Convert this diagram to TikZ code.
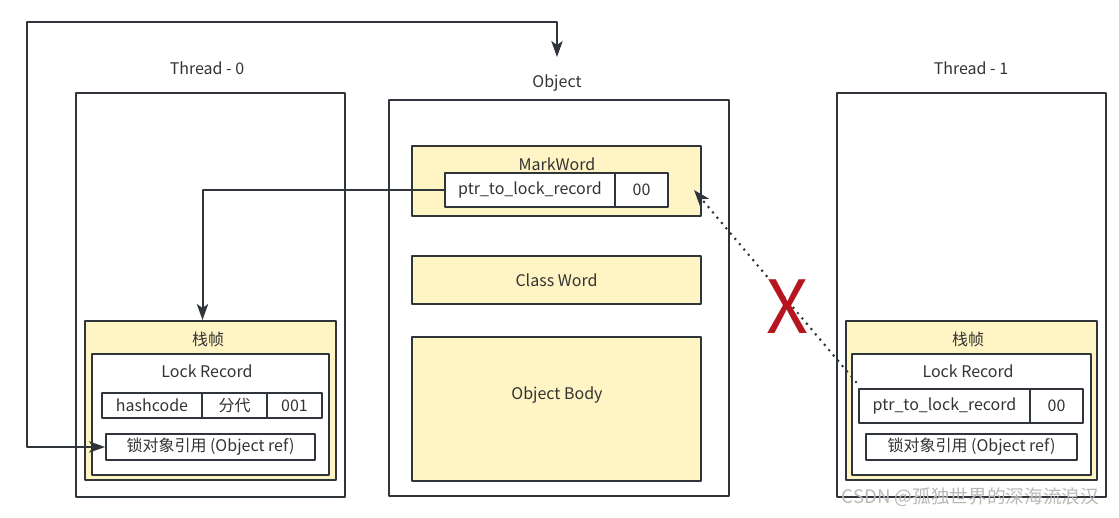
\documentclass[tikz,border=0pt]{standalone}
\usepackage{fontspec}
\setmainfont{Noto Sans CJK SC}
\usetikzlibrary{arrows.meta}
\definecolor{edge}{HTML}{2F353B}
\definecolor{note}{HTML}{FFF4C3}
\definecolor{cross}{HTML}{B5151F}
\begin{document}
\begin{tikzpicture}[x=0.75pt,y=-0.75pt,line join=round,>={Stealth[length=12pt,width=8.5pt,inset=3pt]},
	font=\fontsize{12}{14}\selectfont,text=black!80,
	sz/.style 2 args={minimum width=#1*0.75pt,minimum height=#2*0.75pt},
	frame/.style={draw=edge,line width=1.5pt,fill=white,inner sep=0pt},
	part/.style={draw=edge,line width=1.5pt,fill=note,inner sep=0pt},
	cell/.style={draw=edge,line width=1.5pt,fill=white,inner sep=0pt}]
	\useasboundingbox (0,0) rectangle (1119,517);
	%Các khung lớn
	\node[frame,sz={269}{404}] (t0) at (210.5,295) {};
	\node[frame,sz={340}{396}] (obj) at (559,298) {};
	\node[frame,sz={269}{404}] (t1) at (971.5,295) {};
	\node (t0lbl) at (207,68) {Thread - 0};
	\node (objlbl) at (557,83) {Object};
	\node (t1lbl) at (971,68) {Thread - 1};
	%Object
	\node[part,sz={289}{70}] (mw) at (556.5,181) {};
	\node (mwlbl) at (557,164) {MarkWord};
	\node[cell,sz={170}{34}] (ptr) at (530,190) {ptr\_to\_lock\_record};
	\node[cell,sz={53}{34}] (mwbits) at (641.5,190) {00};
	\node[part,sz={289}{48}] (cw) at (556.5,280) {Class Word};
	\node[part,sz={289}{144}] (body) at (556.5,409) {};
	\node (bodylbl) at (557,395) {Object Body};
	%Thread - 0
	\node[part,sz={251}{159}] (sf0) at (210.5,400.5) {};
	\node (sf0lbl) at (208,339) {栈帧};
	\node[cell,sz={237}{121}] (lr0) at (210.5,414.5) {};
	\node (lr0lbl) at (207,371) {Lock Record};
	\node[cell,sz={100}{25}] (hash) at (152,405.5) {hashcode};
	\node[cell,sz={65}{25}] (gen) at (234.5,405.5) {分代};
	\node[cell,sz={55}{25}] (bits0) at (294.5,405.5) {001};
	\node[cell,sz={209}{26}] (ref0) at (210.5,447) {锁对象引用 (Object ref)};
	%Thread - 1
	\node[part,sz={251}{159}] (sf1) at (971.5,400.5) {};
	\node (sf1lbl) at (968,339) {栈帧};
	\node[cell,sz={239}{121}] (lr1) at (971.5,414.5) {};
	\node (lr1lbl) at (968,371) {Lock Record};
	\node[cell,sz={171}{34}] (ptr1) at (944.5,406) {ptr\_to\_lock\_record};
	\node[cell,sz={53}{34}] (bits1) at (1056.5,406) {00};
	\node[cell,sz={211}{26}] (ref1) at (971.5,447) {锁对象引用 (Object ref)};
	%Các mũi tên
	\coordinate (objtop) at (557,57);
	\draw[<->,draw=edge,line width=1.5pt] (ref0.west) -- (27,447) -- (27,22) -- (557,22) -- (objtop);
	\draw[->,draw=edge,line width=1.5pt] (ptr.west) -| ([xshift=-6pt]sf0.north);
	\draw[->,draw=edge,line width=2.2pt,line cap=round,dash pattern=on 0pt off 5.2pt] ([xshift=-1.5pt,yshift=4.5pt]ptr1.north west) -- ([xshift=-6pt,yshift=-6.75pt]mw.east);
	\node[text=cross,font=\fontsize{55}{55}\selectfont] (x) at (787,307) {X};
	\node[text=gray!55,font=\fontsize{14}{16}\selectfont,anchor=east] (mark) at (1104,497) {CSDN @孤独世界的深海流浪汉};
\end{tikzpicture}
\end{document}
